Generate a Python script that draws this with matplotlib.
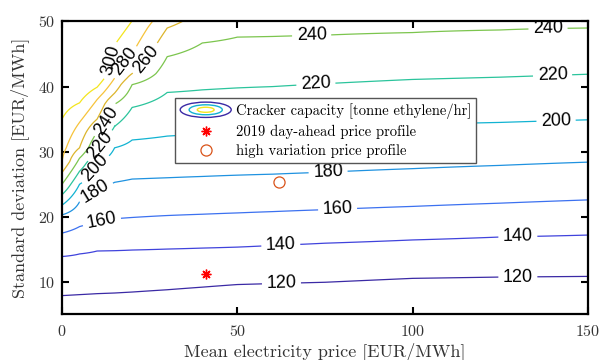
import numpy as np
import matplotlib
matplotlib.use("Agg")
import matplotlib.pyplot as plt
from matplotlib.legend_handler import HandlerBase
from matplotlib.patches import Ellipse
from matplotlib.lines import Line2D

plt.rcParams["font.family"] = "cmr10"
plt.rcParams["axes.formatter.use_mathtext"] = True

# mean price columns the capacity map was evaluated on
price_grid = [0, 5, 10, 15, 20, 30, 40, 50, 60, 75, 100, 125, 150]
levels = [120, 140, 160, 180, 200, 220, 240, 260, 280, 300]

# std dev (EUR/MWh) where each capacity level is reached, per price column
std_120 = [7.9, 8.05, 8.2, 8.3, 8.45, 8.8, 9.2, 9.6, 9.75, 9.95, 10.55, 10.75, 10.85]
std_140 = [13.9, 14.3, 14.75, 14.8, 14.9, 15.05, 15.2, 15.35, 15.6, 15.95, 16.45, 16.9, 17.2]
std_160 = [17.5, 18.5, 19.4, 19.7, 19.9, 20.2, 20.4, 20.6, 20.8, 21.1, 21.6, 22.1, 22.6]
std_180 = [20.3, 22.3, 24.3, 25.3, 25.8, 26.0, 26.2, 26.4, 26.55, 26.85, 27.4, 27.9, 28.4]
std_200 = [21.8, 25.0, 28.2, 30.6, 31.8, 32.4, 32.7, 32.9, 33.1, 33.55, 34.2, 34.5, 34.9]
std_220 = [23.4, 27.0, 30.5, 33.9, 36.8, 39.1, 39.5, 39.8, 40.0, 40.45, 41.1, 41.45, 41.9]
std_240 = [25.0, 29.0, 33.0, 37.3, 40.3, 44.6, 46.7, 47.6, 47.7, 47.9, 48.3, 48.7, 49.0]
std_260 = [26.8, 30.6, 35.0, 39.0, 42.0, 49.0, 52.0, 55.0, 57.0, 59.0, 61.0, 63.0, 65.0]
std_280 = [28.5, 34.5, 38.0, 41.3, 45.0, 52.5, 56.0, 59.0, 61.0, 63.0, 65.0, 67.0, 69.0]
std_300 = [35.0, 37.5, 39.9, 46.4, 50.1, 56.0, 60.0, 63.0, 65.0, 67.0, 69.0, 71.0, 73.0]
level_heights = [std_120, std_140, std_160, std_180, std_200,
                 std_220, std_240, std_260, std_280, std_300]

# price profiles (mean, std)
profile_2019 = (41.2, 11.2)
profile_high_var = (61.9, 25.3)

level_colors = ["#3b2aa5", "#4043dc", "#3c71f0", "#1f92e0", "#12b3d2",
                "#2bc49c", "#7cc54e", "#dcb52c", "#f6c33b", "#f3e51e"]

# build the capacity field column by column from the level heights
std_axis = np.linspace(5, 50, 901)
lv = np.array(levels, dtype=float)
Z = np.empty((len(std_axis), len(price_grid)))
for j in range(len(price_grid)):
    ys = np.array([h[j] for h in level_heights])
    lo = (lv[1] - lv[0]) / (ys[1] - ys[0])
    hi = (lv[-1] - lv[-2]) / (ys[-1] - ys[-2])
    ys_ext = np.concatenate([[ys[0] - 40], ys, [ys[-1] + 40]])
    lv_ext = np.concatenate([[lv[0] - 40 * lo], lv, [lv[-1] + 40 * hi]])
    Z[:, j] = np.interp(std_axis, ys_ext, lv_ext)


class CapacityIcon:
    pass


class CapacityIconHandler(HandlerBase):
    def create_artists(self, legend, orig_handle, xdescent, ydescent,
                       width, height, fontsize, trans):
        cx = 0.5 * width - xdescent
        cy = 0.5 * height - ydescent
        rings = []
        for scale, col in ((1.0, "#3b2aa5"), (0.65, "#12b3d2"), (0.33, "#f3e51e")):
            rings.append(Ellipse((cx, cy), width * scale, height * 1.5 * scale,
                                 fill=False, edgecolor=col, lw=1.0,
                                 transform=trans))
        return rings


fig = plt.figure(figsize=(6.03, 3.6), dpi=100)
ax = fig.add_axes([0.1028, 0.1264, 0.8723, 0.8139])

cs = ax.contour(price_grid, std_axis, Z, levels=levels,
                colors=level_colors, linewidths=0.9)

label_spots = [(62.6, 9.5), (130, 10.75), (62.4, 15.6), (130, 16.95),
               (11.3, 19.4), (78.6, 21.1), (9.3, 24.1), (75.9, 26.7),
               (9.3, 27.5), (140.9, 34.7), (10.7, 31.0), (72.4, 40.4),
               (139.9, 41.7), (12.3, 34.9), (71.2, 47.7), (138.6, 48.9),
               (23.2, 44.6), (18.4, 43.6), (12.6, 44.2)]
texts = ax.clabel(cs, levels, manual=label_spots, inline=True,
                  inline_spacing=6, fontsize=13, fmt="%d", colors="k")
for t in texts:
    t.set_fontfamily("Liberation Sans")

ax.plot(*profile_2019, linestyle="none", marker=(8, 2, 0), color="r",
        markersize=7, markeredgewidth=1.0)
ax.plot(*profile_high_var, linestyle="none", marker="o", mfc="none",
        mec="#d95319", markersize=8, markeredgewidth=0.9)

handles = [CapacityIcon(),
           Line2D([], [], linestyle="none", marker=(8, 2, 0), color="r",
                  markersize=7, markeredgewidth=1.0),
           Line2D([], [], linestyle="none", marker="o", mfc="none",
                  mec="#d95319", markersize=8, markeredgewidth=0.9)]
names = ["Cracker capacity [tonne ethylene/hr]",
         "2019 day-ahead price profile",
         "high variation price profile"]
leg = ax.legend(handles, names, handler_map={CapacityIcon: CapacityIconHandler()},
                loc="upper left", bbox_to_anchor=(0.215, 0.739),
                borderaxespad=0, fontsize=10.5, fancybox=False,
                framealpha=1, edgecolor="#555555", handlelength=3.5,
                handletextpad=0.3, labelspacing=0.38, borderpad=0.35)
leg.get_frame().set_linewidth(1.0)

ax.set_xlim(0, 150)
ax.set_ylim(5, 50)
ax.set_xticks([0, 50, 100, 150])
ax.set_yticks([10, 20, 30, 40, 50])
ax.tick_params(direction="in", top=True, right=True, length=5, width=1.5,
               labelsize=11.5, colors="k", labelcolor="#333333")
ax.tick_params(axis="x", pad=7)
ax.tick_params(axis="y", pad=5)
for s in ax.spines.values():
    s.set_linewidth(1.6)
ax.set_xlabel("Mean electricity price [EUR/MWh]", fontsize=13,
              color="#333333", labelpad=2)
ax.set_ylabel("Standard deviation [EUR/MWh]", fontsize=13,
              color="#333333", labelpad=6)

fig.savefig("out.png", dpi=100)
